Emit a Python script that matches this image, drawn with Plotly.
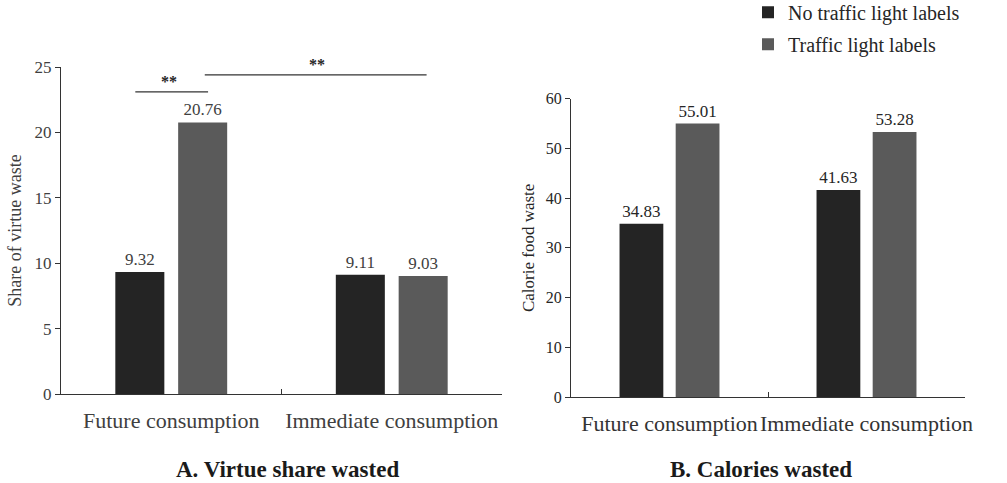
import plotly.graph_objects as go
from plotly.subplots import make_subplots

# Data
categories = ["Future consumption", "Immediate consumption"]
series_names = ["No traffic light labels", "Traffic light labels"]
virtue_no_label = [9.32, 9.11]
virtue_label = [20.76, 9.03]
calorie_no_label = [34.83, 41.63]
calorie_label = [55.01, 53.28]
virtue_ticks = [0, 5, 10, 15, 20, 25]
calorie_ticks = [0, 10, 20, 30, 40, 50, 60]

# Styling
FONT = "Liberation Serif"
BAR_COLORS = ["#242424", "#5a5a5a"]
W, H = 1007, 483

fig = make_subplots(rows=1, cols=2)

for i, (name, vals) in enumerate(zip(series_names, [virtue_no_label, virtue_label])):
    fig.add_trace(go.Bar(
        x=categories, y=vals, name=name, marker_color=BAR_COLORS[i],
        marker_line_width=0, text=[f"{v:.2f}" for v in vals],
        textposition="outside", cliponaxis=False,
        textfont=dict(family=FONT, size=17, color="#404040"),
        legendgroup=f"g{i}", showlegend=False), row=1, col=1)

for i, (name, vals) in enumerate(zip(series_names, [calorie_no_label, calorie_label])):
    fig.add_trace(go.Bar(
        x=categories, y=vals, name=name, marker_color=BAR_COLORS[i],
        marker_line_width=0, text=[f"{v:.2f}" for v in vals],
        textposition="outside", cliponaxis=False,
        textfont=dict(family=FONT, size=17, color="#262626"),
        legendgroup=f"g{i}", showlegend=True), row=1, col=2)

def px_x(p):
    return p / W

def px_y(p):
    return 1 - p / H

axis_common = dict(showline=True, linecolor="#333333", linewidth=1.3,
                   showgrid=False, zeroline=False)

fig.update_layout(
    xaxis=dict(domain=[px_x(61), px_x(502)], ticks="inside", tickson="boundaries",
               ticklen=5, tickcolor="#333333", tickwidth=1.3, tickangle=0,
               ticklabelstandoff=6,
               tickfont=dict(family=FONT, size=22, color="#404040"), **axis_common),
    yaxis=dict(domain=[px_y(394), px_y(67)], range=[0, 25], tickvals=virtue_ticks,
               ticks="outside", ticklen=5, tickcolor="#333333", tickwidth=1.3,
               tickfont=dict(family=FONT, size=17, color="#404040"),
               title=dict(text="Share of virtue waste", standoff=8,
                          font=dict(family=FONT, size=18, color="#404040")),
               **axis_common),
    xaxis2=dict(domain=[px_x(571), px_x(965)], ticks="inside", tickson="boundaries",
                ticklen=5, tickcolor="#333333", tickwidth=1.3, tickangle=0,
                ticklabelstandoff=6,
                tickfont=dict(family=FONT, size=22, color="#333333"), **axis_common),
    yaxis2=dict(domain=[px_y(397), px_y(98.7)], range=[0, 60], tickvals=calorie_ticks,
                ticks="outside", ticklen=5, tickcolor="#333333", tickwidth=1.3,
                tickfont=dict(family=FONT, size=16, color="#262626"),
                title=dict(text="Calorie food waste", standoff=6,
                           font=dict(family=FONT, size=17, color="#262626")),
                **axis_common),
    barmode="group", bargap=0.43, bargroupgap=0.22,
    width=W, height=H, margin=dict(l=0, r=0, t=0, b=0, autoexpand=False),
    paper_bgcolor="white", plot_bgcolor="white",
    legend=dict(x=px_x(748), y=1.015, xanchor="left", yanchor="top",
                font=dict(family=FONT, size=20, color="#262626"),
                bgcolor="rgba(0,0,0,0)", tracegroupgap=3),
    font=dict(family=FONT),
)

# Significance brackets on panel A
line_style = dict(color="#333333", width=1.2)
fig.add_shape(type="line", xref="x", yref="y", x0=-0.163, x1=0.167, y0=23.1, y1=23.1,
              line=line_style)
fig.add_shape(type="line", xref="x", yref="y", x0=0.152, x1=1.158, y0=24.4, y1=24.4,
              line=line_style)
fig.add_annotation(xref="x", yref="y", x=-0.01, y=23.1, text="<b>**</b>", showarrow=False,
                   xanchor="center", yanchor="bottom",
                   font=dict(family=FONT, size=16, color="#262626"))
fig.add_annotation(xref="x", yref="y", x=0.66, y=24.4, text="<b>**</b>", showarrow=False,
                   xanchor="center", yanchor="bottom",
                   font=dict(family=FONT, size=16, color="#262626"))

# Panel captions
fig.add_annotation(xref="paper", yref="paper", x=px_x(287), y=px_y(469),
                   xanchor="center", yanchor="middle",
                   text="<b>A. Virtue share wasted</b>", showarrow=False,
                   font=dict(family=FONT, size=23, color="#1a1a1a"))
fig.add_annotation(xref="paper", yref="paper", x=px_x(760.5), y=px_y(469),
                   xanchor="center", yanchor="middle",
                   text="<b>B. Calories wasted</b>", showarrow=False,
                   font=dict(family=FONT, size=23, color="#1a1a1a"))

fig.write_html("out.html")
